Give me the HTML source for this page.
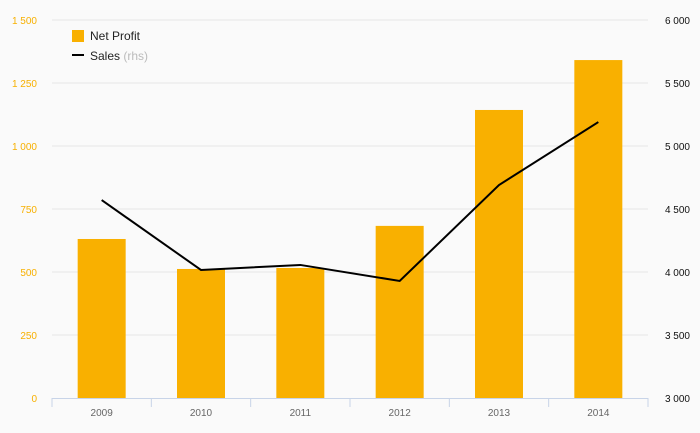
<!DOCTYPE html>
<html><head><meta charset="utf-8"><style>
body{margin:0;background:#fafafa;font-family:"Liberation Sans",sans-serif}
svg{display:block}
</style></head><body>
<svg id="c" width="700" height="433"></svg>
<script>
const categories=["2009","2010","2011","2012","2013","2014"];
const netProfit=[631,512,516,683,1143,1341];
const sales=[4571,4016,4056,3929,4690,5190];
const leftTicks=[0,250,500,750,1000,1250,1500];
const rightTicks=[3000,3500,4000,4500,5000,5500,6000];
const svg=document.getElementById('c');const NS='http://www.w3.org/2000/svg';
function el(t,a,p){const e=document.createElementNS(NS,t);for(const k in a)e.setAttribute(k,a[k]);(p||svg).appendChild(e);return e;}
const X0=52,X1=648,Y0=398,Y1=20;const bw=(X1-X0)/categories.length;
const yl=v=>Y0-(v/1500)*(Y0-Y1);const yr=v=>Y0-((v-3000)/3000)*(Y0-Y1);
const xc=i=>X0+bw*(i+0.5);
const fmt=v=>String(v).replace(/\B(?=(\d{3})+(?!\d))/g,' ');
leftTicks.forEach((v,i)=>{if(v>0){const g=el('line',{x1:X0,x2:X1,y1:yl(v),y2:yl(v),stroke:'#e6e6e6'});}
const t=el('text',{x:37,y:yl(v)+4,'text-anchor':'end','font-size':10,fill:'#f7b000'});t.textContent=fmt(v);});
rightTicks.forEach(v=>{const t=el('text',{x:690,y:yr(v)+4,'text-anchor':'end','font-size':10,fill:'#111'});t.textContent=fmt(v);});
netProfit.forEach((v,i)=>{const r=el('rect',{x:xc(i)-24,y:yl(v),width:48,height:Y0-yl(v),fill:'#f9b000'});});
const ax=el('line',{x1:X0,x2:X1,y1:Y0+0.5,y2:Y0+0.5,stroke:'#c8d4e8'});
for(let i=0;i<=categories.length;i++){const t=el('line',{x1:X0+bw*i,x2:X0+bw*i,y1:Y0,y2:Y0+9,stroke:'#c8d4e8'});}
categories.forEach((c,i)=>{const t=el('text',{x:xc(i),y:416,'text-anchor':'middle','font-size':10,fill:'#666'});t.textContent=c;});
const ln=el('polyline',{points:sales.map((v,i)=>xc(i)+','+yr(v)).join(' '),fill:'none',stroke:'#000','stroke-width':2});
const lg=el('g',{});
el('rect',{x:72,y:30,width:12,height:12,fill:'#f9b000'},lg);
const t1=el('text',{x:90,y:40,'font-size':12,fill:'#222'},lg);t1.textContent='Net Profit';
el('line',{x1:72,x2:84,y1:55,y2:55,stroke:'#000','stroke-width':2},lg);
const t2=el('text',{x:90,y:60,'font-size':12,fill:'#222'},lg);t2.innerHTML='Sales <tspan fill="#bbb">(rhs)</tspan>';
</script>
</body></html>
